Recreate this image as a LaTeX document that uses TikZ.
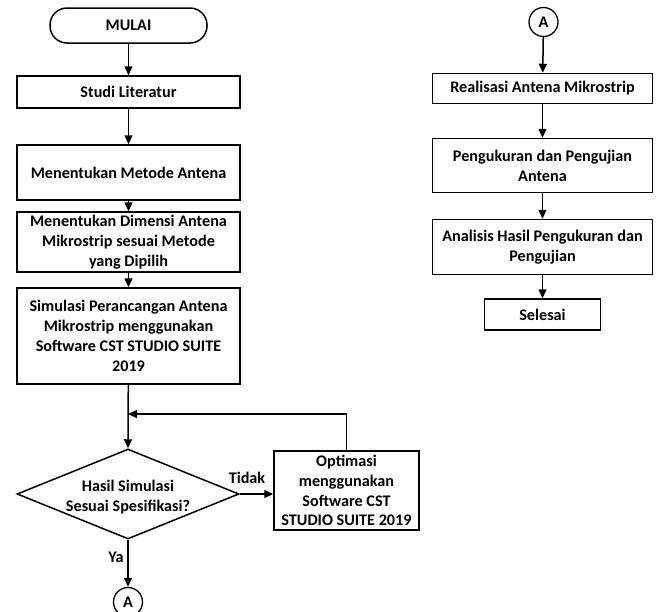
\documentclass[tikz,border=0pt]{standalone}
\usepackage{fontspec}
\setmainfont{Carlito}
\usetikzlibrary{arrows.meta,shapes.geometric}
\begin{document}
\begin{tikzpicture}[x=1pt,y=-1pt,
  every node/.style={font=\fontsize{16.2}{19.8}\selectfont\bfseries},
  box/.style={draw,line width=1.5pt,align=center,inner sep=0.5pt},
  term/.style={draw,line width=1.5pt,rounded corners=17pt,minimum width=157pt,minimum height=35pt},
  conn/.style={draw,circle,line width=1.3pt,minimum size=29pt,inner sep=0pt},
  dia/.style={draw,diamond,line width=1.5pt,minimum width=222pt,minimum height=90pt,inner sep=0pt},
  lbl/.style={inner sep=0pt},
  arr/.style={line width=1.5pt,-{Triangle[length=9pt,width=8pt]}}]
\useasboundingbox (0,0) rectangle (656,611);
% left column
\node[term] (mulai) at (128.5,25.5) {MULAI};
\node[box,minimum width=223pt,minimum height=32pt] (studi) at (128.5,92) {Studi Literatur};
\node[box,minimum width=223pt,minimum height=55pt] (metode) at (128.5,172.5) {Menentukan Metode Antena};
\node[box,minimum width=223pt,minimum height=60pt] (dimensi) at (128.5,242) {Menentukan Dimensi Antena\\Mikrostrip sesuai Metode\\yang Dipilih};
\node[box,minimum width=223pt,minimum height=96pt] (simulasi) at (128.5,336) {Simulasi Perancangan Antena\\Mikrostrip menggunakan\\Software CST STUDIO SUITE\\2019};
\node[dia] (dec) at (128,494) {};
\node[lbl,align=center] (dectext) at (128,497) {Hasil Simulasi\\Sesuai Spesifikasi?};
\node[box,minimum width=145pt,minimum height=79pt] (opt) at (346.5,490.5) {Optimasi\\menggunakan\\Software CST\\STUDIO SUITE 2019};
\node[conn] (a1) at (128,602) {A};
\node[lbl] (tidak) at (247,478) {Tidak};
\node[lbl] (ya) at (116,557) {Ya};
\coordinate (fb) at (128,414);
\draw[arr] (mulai) -- (studi);
\draw[arr] (studi) -- (metode);
\draw[arr] (metode) -- (dimensi);
\draw[arr] (dimensi) -- (simulasi);
\draw[arr] (simulasi) -- (dec.north);
\draw[arr] (opt.north) |- (fb);
\draw[arr] (dec.east) -- (dec.east -| opt.west);
\draw[arr] (dec.south) -- (a1);
% right column
\node[conn] (a2) at (543.5,22) {A};
\node[box,minimum width=220pt,minimum height=30pt] (real) at (542.5,88.5) {Realisasi Antena Mikrostrip};
\node[box,minimum width=220pt,minimum height=54pt] (ukur) at (542.5,165.5) {Pengukuran dan Pengujian\\Antena};
\node[box,minimum width=220pt,minimum height=55pt] (anal) at (542.5,247) {Analisis Hasil Pengukuran dan\\Pengujian};
\node[box,minimum width=116pt,minimum height=31pt] (selesai) at (542.5,314.5) {Selesai};
\draw[arr] (a2) -- (real);
\draw[arr] (real) -- (ukur);
\draw[arr] (ukur) -- (anal);
\draw[arr] (anal) -- (selesai);
\end{tikzpicture}
\end{document}
